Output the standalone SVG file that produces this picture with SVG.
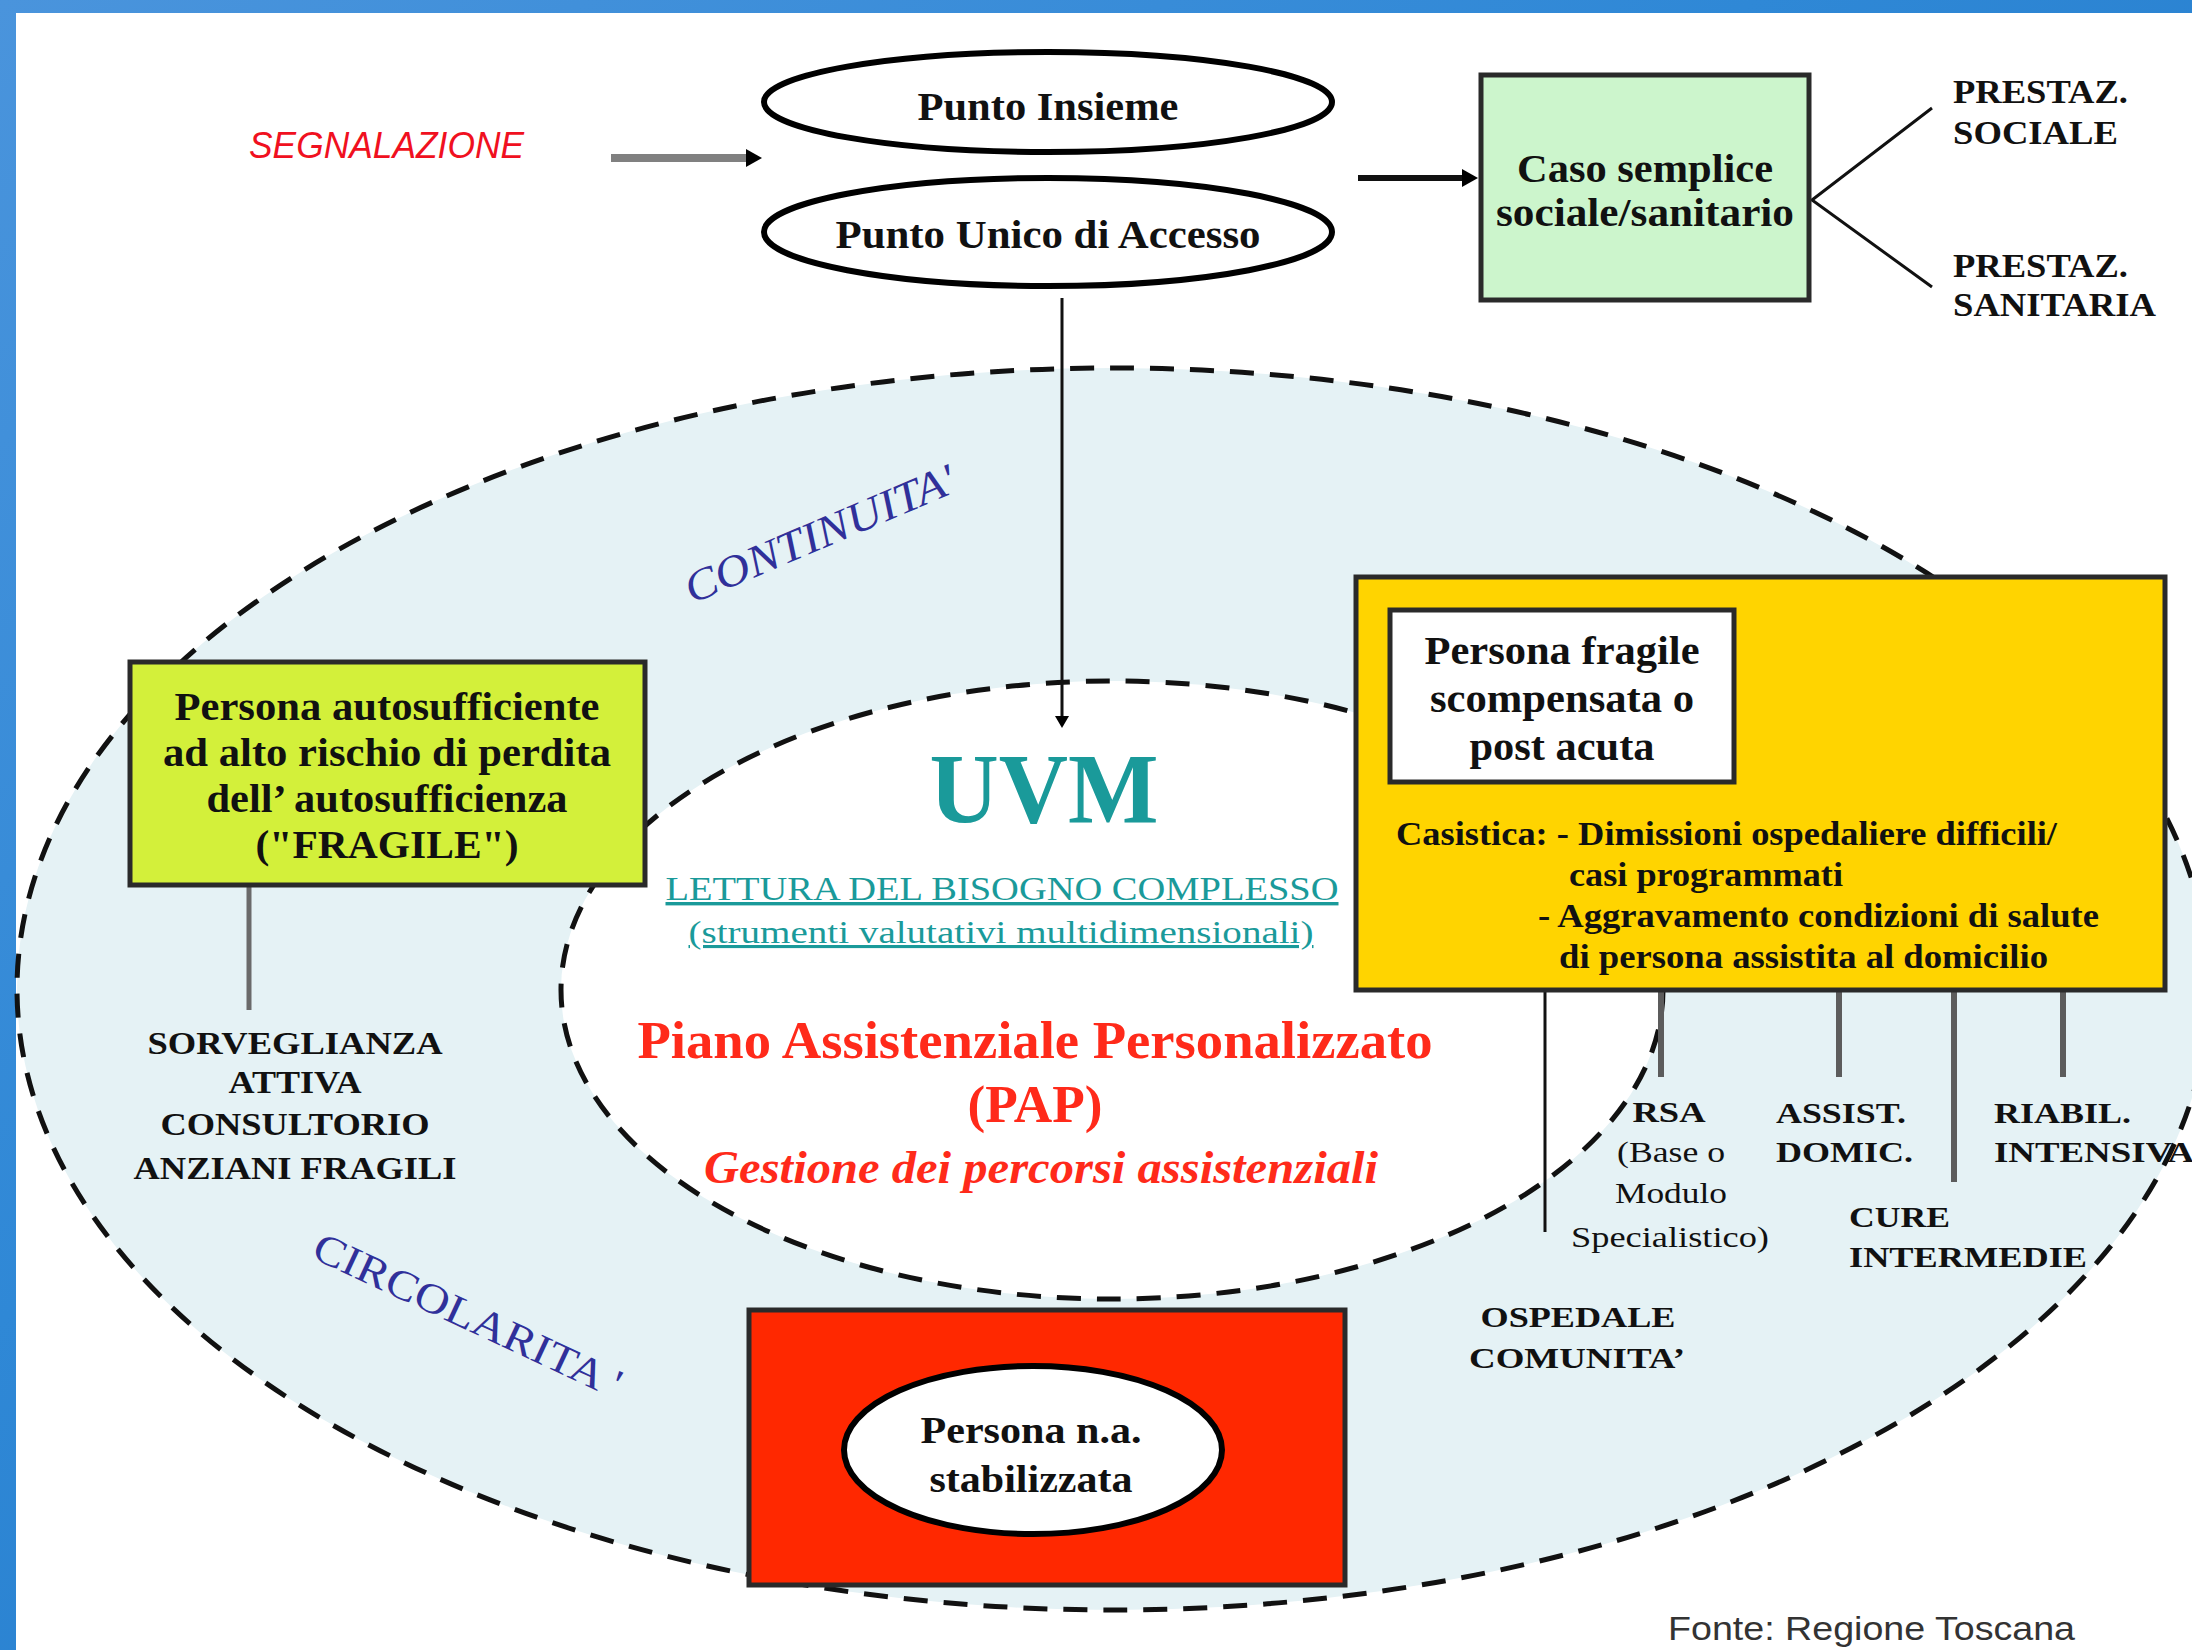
<svg xmlns="http://www.w3.org/2000/svg" width="2192" height="1650" viewBox="0 0 2192 1650">
<defs>
<linearGradient id="bg" x1="0" y1="0" x2="1" y2="1">
<stop offset="0" stop-color="#4a94dc"/>
<stop offset="0.4" stop-color="#2f88d6"/>
<stop offset="1" stop-color="#1c70c0"/>
</linearGradient>
<marker id="ah" markerUnits="userSpaceOnUse" markerWidth="16" markerHeight="18" viewBox="0 0 16 18" refX="0" refY="9" orient="auto">
<path d="M0,0 L16,9 L0,18 z" fill="#000"/>
</marker>
<marker id="ahs" markerUnits="userSpaceOnUse" markerWidth="12" markerHeight="14" viewBox="0 0 12 14" refX="0" refY="7" orient="auto">
<path d="M0,0 L12,7 L0,14 z" fill="#000"/>
</marker>
</defs>
<style>
.b{font-family:"Liberation Serif","Times New Roman",serif;font-weight:bold;fill:#111}
.r{font-family:"Liberation Serif","Times New Roman",serif;font-weight:normal;fill:#111}
.c{text-anchor:middle}
.box{stroke:#2a2a2a;stroke-width:5}
.dash{stroke:#111;stroke-width:5;stroke-dasharray:24 16}
.ell{fill:#fff;stroke:#000;stroke-width:6}
.gl{stroke:#5c5c5c;stroke-width:6;fill:none}
.bl{stroke:#111;stroke-width:3;fill:none}
.teal{font-family:"Liberation Serif","Times New Roman",serif;fill:#1a9a9a}
.red{font-family:"Liberation Serif","Times New Roman",serif;font-weight:bold;fill:#ff2a1a}
.blue{font-family:"Liberation Serif","Times New Roman",serif;fill:#30309a}
</style>
<rect x="0" y="0" width="2192" height="1650" fill="url(#bg)"/>
<rect x="16" y="13" width="2176" height="1637" fill="#fff"/>
<g id="rings">
<ellipse cx="1113" cy="989" rx="1096" ry="621" fill="#e5f2f5" class="dash"/>
<ellipse cx="1112" cy="990" rx="551" ry="309" fill="#fff" class="dash"/>
</g>
<g id="connectors">
<line x1="611" y1="158" x2="746" y2="158" stroke="#808080" stroke-width="8" marker-end="url(#ah)"/>
<line x1="1358" y1="178" x2="1462" y2="178" stroke="#111" stroke-width="6" marker-end="url(#ah)"/>
<line x1="1062" y1="298" x2="1062" y2="716" stroke="#111" stroke-width="3" marker-end="url(#ahs)"/>
<polyline points="1932,108 1812,200 1932,287" class="bl"/>
<line x1="249" y1="887" x2="249" y2="1010" stroke="#6a6a6a" stroke-width="5"/>
<line x1="1545" y1="992" x2="1545" y2="1232" class="bl"/>
<line x1="1661" y1="992" x2="1661" y2="1077" class="gl"/>
<line x1="1839" y1="992" x2="1839" y2="1077" class="gl"/>
<line x1="1954" y1="992" x2="1954" y2="1182" class="gl"/>
<line x1="2063" y1="992" x2="2063" y2="1077" class="gl"/>
</g>
<g id="segnalazione">
<text x="249" y="158" font-family="'Liberation Sans',Arial,sans-serif" font-style="italic" font-size="36" fill="#f01020" textLength="275" lengthAdjust="spacingAndGlyphs">SEGNALAZIONE</text>
</g>
<g id="punto-insieme">
<ellipse cx="1048" cy="102" rx="284" ry="50" class="ell"/>
<text x="1048" y="120" class="b c" font-size="40" textLength="261" lengthAdjust="spacingAndGlyphs">Punto Insieme</text>
</g>
<g id="pua">
<ellipse cx="1048" cy="232" rx="284" ry="54" class="ell"/>
<text x="1048" y="248" class="b c" font-size="40" textLength="425" lengthAdjust="spacingAndGlyphs">Punto Unico di Accesso</text>
</g>
<g id="caso-semplice">
<rect x="1481" y="75" width="328" height="225" fill="#ccf5cc" class="box"/>
<text x="1645" y="182" class="b c" font-size="40" textLength="256" lengthAdjust="spacingAndGlyphs">Caso semplice</text>
<text x="1645" y="226" class="b c" font-size="40" textLength="298" lengthAdjust="spacingAndGlyphs">sociale/sanitario</text>
</g>
<g id="prestaz-sociale">
<text x="1953" y="103" class="b" font-size="34" textLength="175" lengthAdjust="spacingAndGlyphs">PRESTAZ.</text>
<text x="1953" y="144" class="b" font-size="34" textLength="165" lengthAdjust="spacingAndGlyphs">SOCIALE</text>
</g>
<g id="prestaz-sanitaria">
<text x="1953" y="277" class="b" font-size="34" textLength="175" lengthAdjust="spacingAndGlyphs">PRESTAZ.</text>
<text x="1953" y="316" class="b" font-size="34" textLength="203" lengthAdjust="spacingAndGlyphs">SANITARIA</text>
</g>
<g id="continuita">
<text transform="translate(692,604) rotate(-23)" class="blue" font-style="italic" font-size="44" textLength="290" lengthAdjust="spacingAndGlyphs">CONTINUITA'</text>
</g>
<g id="circolarita">
<text transform="translate(310,1257) rotate(25)" class="blue" font-size="42" textLength="335" lengthAdjust="spacingAndGlyphs">CIRCOLARITA '</text>
</g>
<g id="fragile">
<rect x="130" y="662" width="515" height="223" fill="#d3f03a" class="box"/>
<text x="387" y="720" class="b c" font-size="40" textLength="425" lengthAdjust="spacingAndGlyphs">Persona autosufficiente</text>
<text x="387" y="766" class="b c" font-size="40" textLength="448" lengthAdjust="spacingAndGlyphs">ad alto rischio di perdita</text>
<text x="387" y="812" class="b c" font-size="40" textLength="361" lengthAdjust="spacingAndGlyphs">dell’ autosufficienza</text>
<text x="387" y="858" class="b c" font-size="40" textLength="263" lengthAdjust="spacingAndGlyphs">("FRAGILE")</text>
</g>
<g id="sorveglianza">
<text x="295" y="1054" class="b c" font-size="32" textLength="295" lengthAdjust="spacingAndGlyphs">SORVEGLIANZA</text>
<text x="295" y="1093" class="b c" font-size="32" textLength="133" lengthAdjust="spacingAndGlyphs">ATTIVA</text>
<text x="295" y="1135" class="b c" font-size="32" textLength="269" lengthAdjust="spacingAndGlyphs">CONSULTORIO</text>
<text x="295" y="1179" class="b c" font-size="32" textLength="323" lengthAdjust="spacingAndGlyphs">ANZIANI FRAGILI</text>
</g>
<g id="uvm">
<text x="1044" y="822" class="teal c" font-weight="bold" font-size="100" textLength="229" lengthAdjust="spacingAndGlyphs">UVM</text>
<text x="1002" y="900" class="teal c" font-size="34" text-decoration="underline" textLength="673" lengthAdjust="spacingAndGlyphs">LETTURA DEL BISOGNO COMPLESSO</text>
<text x="1001" y="943" class="teal c" font-size="31" text-decoration="underline" textLength="625" lengthAdjust="spacingAndGlyphs">(strumenti valutativi multidimensionali)</text>
<text x="1035" y="1058" class="red c" font-size="52" textLength="795" lengthAdjust="spacingAndGlyphs">Piano Assistenziale Personalizzato</text>
<text x="1035" y="1122" class="red c" font-size="52" textLength="135" lengthAdjust="spacingAndGlyphs">(PAP)</text>
<text x="1041" y="1183" class="red c" font-style="italic" font-size="46" textLength="674" lengthAdjust="spacingAndGlyphs">Gestione dei percorsi assistenziali</text>
</g>
<g id="persona-na">
<rect x="749" y="1310" width="596" height="275" fill="#ff2800" class="box"/>
<ellipse cx="1033" cy="1450" rx="189" ry="84" class="ell"/>
<text x="1031" y="1443" class="b c" font-size="38" textLength="221" lengthAdjust="spacingAndGlyphs">Persona n.a.</text>
<text x="1031" y="1492" class="b c" font-size="38" textLength="203" lengthAdjust="spacingAndGlyphs">stabilizzata</text>
</g>
<g id="persona-fragile">
<rect x="1356" y="577" width="809" height="413" fill="#ffd400" class="box"/>
<rect x="1390" y="610" width="344" height="172" fill="#fff" class="box"/>
<text x="1562" y="664" class="b c" font-size="40" textLength="275" lengthAdjust="spacingAndGlyphs">Persona fragile</text>
<text x="1562" y="712" class="b c" font-size="40" textLength="264" lengthAdjust="spacingAndGlyphs">scompensata o</text>
<text x="1562" y="760" class="b c" font-size="40" textLength="185" lengthAdjust="spacingAndGlyphs">post acuta</text>
<text x="1396" y="845" class="b" font-size="33" textLength="661" lengthAdjust="spacingAndGlyphs">Casistica: - Dimissioni ospedaliere difficili/</text>
<text x="1569" y="886" class="b" font-size="33" textLength="274" lengthAdjust="spacingAndGlyphs">casi programmati</text>
<text x="1538" y="927" class="b" font-size="33" textLength="561" lengthAdjust="spacingAndGlyphs">- Aggravamento condizioni di salute</text>
<text x="1559" y="968" class="b" font-size="33" textLength="489" lengthAdjust="spacingAndGlyphs">di persona assistita al domicilio</text>
</g>
<g id="rsa">
<text x="1669" y="1122" class="b c" font-size="30" textLength="73" lengthAdjust="spacingAndGlyphs">RSA</text>
<text x="1671" y="1162" class="r c" font-size="30" textLength="108" lengthAdjust="spacingAndGlyphs">(Base o</text>
<text x="1671" y="1203" class="r c" font-size="30" textLength="112" lengthAdjust="spacingAndGlyphs">Modulo</text>
<text x="1670" y="1247" class="r c" font-size="30" textLength="198" lengthAdjust="spacingAndGlyphs">Specialistico)</text>
</g>
<g id="assist-domic">
<text x="1776" y="1123" class="b" font-size="30" textLength="130" lengthAdjust="spacingAndGlyphs">ASSIST.</text>
<text x="1776" y="1162" class="b" font-size="30" textLength="137" lengthAdjust="spacingAndGlyphs">DOMIC.</text>
</g>
<g id="cure-intermedie">
<text x="1849" y="1227" class="b" font-size="30" textLength="101" lengthAdjust="spacingAndGlyphs">CURE</text>
<text x="1849" y="1267" class="b" font-size="30" textLength="238" lengthAdjust="spacingAndGlyphs">INTERMEDIE</text>
</g>
<g id="riabil-intensiva">
<text x="1994" y="1123" class="b" font-size="30" textLength="137" lengthAdjust="spacingAndGlyphs">RIABIL.</text>
<text x="1994" y="1162" class="b" font-size="30" textLength="200" lengthAdjust="spacingAndGlyphs">INTENSIVA</text>
</g>
<g id="ospedale-comunita">
<text x="1578" y="1327" class="b c" font-size="30" textLength="195" lengthAdjust="spacingAndGlyphs">OSPEDALE</text>
<text x="1577" y="1368" class="b c" font-size="30" textLength="216" lengthAdjust="spacingAndGlyphs">COMUNITA’</text>
</g>
<g id="fonte">
<text x="1668" y="1640" font-family="'Liberation Sans',Arial,sans-serif" font-size="34" fill="#333" textLength="407" lengthAdjust="spacingAndGlyphs">Fonte: Regione Toscana</text>
</g>
</svg>
